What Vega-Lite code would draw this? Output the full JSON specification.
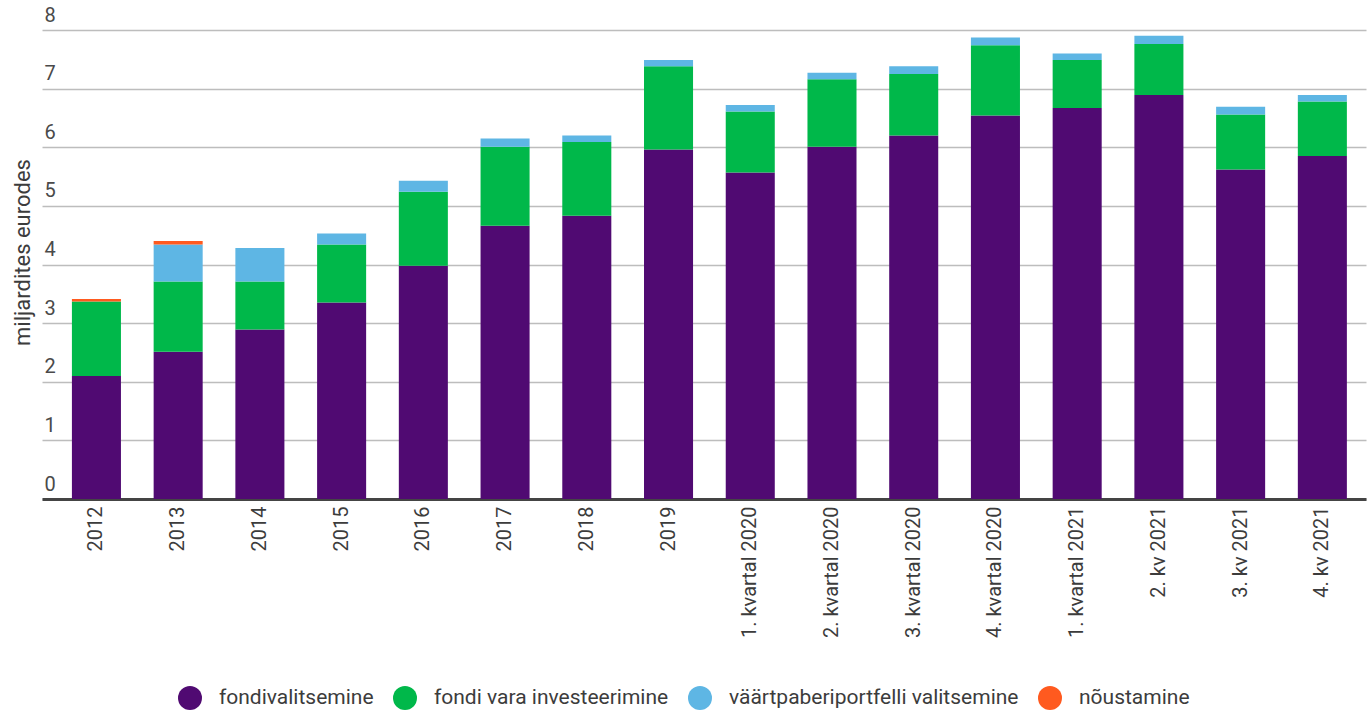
{
  "$schema": "https://vega.github.io/schema/vega-lite/v6.json",
  "width": 1324,
  "height": 469,
  "autosize": {"type": "none"},
  "padding": {"left": 42, "top": 30, "right": 5, "bottom": 212},
  "background": "white",
  "config": {
    "view": {"stroke": null},
    "font": "Roboto"
  },
  "data": {
    "values": [
      {"p": "2012", "s": "fondivalitsemine", "j": 1, "v": 2.10},
      {"p": "2012", "s": "fondi vara investeerimine", "j": 2, "v": 1.27},
      {"p": "2012", "s": "nõustamine", "j": 4, "v": 0.04},
      {"p": "2013", "s": "fondivalitsemine", "j": 1, "v": 2.51},
      {"p": "2013", "s": "fondi vara investeerimine", "j": 2, "v": 1.20},
      {"p": "2013", "s": "väärtpaberiportfelli valitsemine", "j": 3, "v": 0.63},
      {"p": "2013", "s": "nõustamine", "j": 4, "v": 0.06},
      {"p": "2014", "s": "fondivalitsemine", "j": 1, "v": 2.89},
      {"p": "2014", "s": "fondi vara investeerimine", "j": 2, "v": 0.82},
      {"p": "2014", "s": "väärtpaberiportfelli valitsemine", "j": 3, "v": 0.57},
      {"p": "2015", "s": "fondivalitsemine", "j": 1, "v": 3.35},
      {"p": "2015", "s": "fondi vara investeerimine", "j": 2, "v": 0.99},
      {"p": "2015", "s": "väärtpaberiportfelli valitsemine", "j": 3, "v": 0.19},
      {"p": "2016", "s": "fondivalitsemine", "j": 1, "v": 3.98},
      {"p": "2016", "s": "fondi vara investeerimine", "j": 2, "v": 1.26},
      {"p": "2016", "s": "väärtpaberiportfelli valitsemine", "j": 3, "v": 0.19},
      {"p": "2017", "s": "fondivalitsemine", "j": 1, "v": 4.66},
      {"p": "2017", "s": "fondi vara investeerimine", "j": 2, "v": 1.35},
      {"p": "2017", "s": "väärtpaberiportfelli valitsemine", "j": 3, "v": 0.14},
      {"p": "2018", "s": "fondivalitsemine", "j": 1, "v": 4.83},
      {"p": "2018", "s": "fondi vara investeerimine", "j": 2, "v": 1.26},
      {"p": "2018", "s": "väärtpaberiportfelli valitsemine", "j": 3, "v": 0.11},
      {"p": "2019", "s": "fondivalitsemine", "j": 1, "v": 5.96},
      {"p": "2019", "s": "fondi vara investeerimine", "j": 2, "v": 1.42},
      {"p": "2019", "s": "väärtpaberiportfelli valitsemine", "j": 3, "v": 0.11},
      {"p": "1. kvartal 2020", "s": "fondivalitsemine", "j": 1, "v": 5.57},
      {"p": "1. kvartal 2020", "s": "fondi vara investeerimine", "j": 2, "v": 1.04},
      {"p": "1. kvartal 2020", "s": "väärtpaberiportfelli valitsemine", "j": 3, "v": 0.11},
      {"p": "2. kvartal 2020", "s": "fondivalitsemine", "j": 1, "v": 6.01},
      {"p": "2. kvartal 2020", "s": "fondi vara investeerimine", "j": 2, "v": 1.15},
      {"p": "2. kvartal 2020", "s": "väärtpaberiportfelli valitsemine", "j": 3, "v": 0.11},
      {"p": "3. kvartal 2020", "s": "fondivalitsemine", "j": 1, "v": 6.20},
      {"p": "3. kvartal 2020", "s": "fondi vara investeerimine", "j": 2, "v": 1.05},
      {"p": "3. kvartal 2020", "s": "väärtpaberiportfelli valitsemine", "j": 3, "v": 0.13},
      {"p": "4. kvartal 2020", "s": "fondivalitsemine", "j": 1, "v": 6.54},
      {"p": "4. kvartal 2020", "s": "fondi vara investeerimine", "j": 2, "v": 1.20},
      {"p": "4. kvartal 2020", "s": "väärtpaberiportfelli valitsemine", "j": 3, "v": 0.13},
      {"p": "1. kvartal 2021", "s": "fondivalitsemine", "j": 1, "v": 6.67},
      {"p": "1. kvartal 2021", "s": "fondi vara investeerimine", "j": 2, "v": 0.82},
      {"p": "1. kvartal 2021", "s": "väärtpaberiportfelli valitsemine", "j": 3, "v": 0.11},
      {"p": "2. kv 2021", "s": "fondivalitsemine", "j": 1, "v": 6.89},
      {"p": "2. kv 2021", "s": "fondi vara investeerimine", "j": 2, "v": 0.87},
      {"p": "2. kv 2021", "s": "väärtpaberiportfelli valitsemine", "j": 3, "v": 0.14},
      {"p": "3. kv 2021", "s": "fondivalitsemine", "j": 1, "v": 5.62},
      {"p": "3. kv 2021", "s": "fondi vara investeerimine", "j": 2, "v": 0.94},
      {"p": "3. kv 2021", "s": "väärtpaberiportfelli valitsemine", "j": 3, "v": 0.13},
      {"p": "4. kv 2021", "s": "fondivalitsemine", "j": 1, "v": 5.85},
      {"p": "4. kv 2021", "s": "fondi vara investeerimine", "j": 2, "v": 0.93},
      {"p": "4. kv 2021", "s": "väärtpaberiportfelli valitsemine", "j": 3, "v": 0.11}
    ]
  },
  "mark": {"type": "bar"},
  "encoding": {
    "x": {
      "field": "p",
      "type": "nominal",
      "sort": null,
      "scale": {"paddingInner": 0.4, "paddingOuter": 0.3, "align": 0.61},
      "axis": {
        "title": null,
        "labelAngle": -90,
        "labelAlign": "right",
        "labelBaseline": "middle",
        "labelFontSize": 20,
        "labelColor": "#3c3c3c",
        "labelPadding": 7,
        "ticks": false,
        "domainColor": "#444444",
        "domainWidth": 3,
        "labelFont": "Roboto"
      }
    },
    "y": {
      "field": "v",
      "type": "quantitative",
      "stack": "zero",
      "scale": {"domain": [0, 8], "nice": false},
      "axis": {
        "title": "miljardites eurodes",
        "titleFontSize": 22,
        "titleFontWeight": "normal",
        "titleColor": "#3c3c3c",
        "titleFont": "Roboto",
        "titleAngle": 270,
        "titleAlign": "center",
        "titleBaseline": "middle",
        "titleX": -20,
        "titleY": 222,
        "values": [0, 1, 2, 3, 4, 5, 6, 7, 8],
        "format": "d",
        "labelAlign": "left",
        "labelBaseline": "bottom",
        "labelPadding": -2,
        "labelOffset": -5,
        "labelFontSize": 20,
        "labelColor": "#4a4a4a",
        "labelFont": "Roboto",
        "ticks": false,
        "domain": false,
        "grid": true,
        "gridColor": "#bdbdbd",
        "gridWidth": 1.5,
        "zindex": 0
      }
    },
    "color": {
      "field": "s",
      "type": "nominal",
      "scale": {
        "domain": ["fondivalitsemine", "fondi vara investeerimine", "väärtpaberiportfelli valitsemine", "nõustamine"],
        "range": ["#500a72", "#00b84a", "#5eb6e4", "#ff5a1f"]
      },
      "legend": {
        "title": null,
        "orient": "none",
        "direction": "horizontal",
        "legendX": 136,
        "legendY": 656,
        "symbolType": "circle",
        "symbolSize": 576,
        "symbolOpacity": 1,
        "symbolStrokeWidth": 0,
        "labelFontSize": 21,
        "labelColor": "#3c3c3c",
        "labelFont": "Roboto",
        "labelOffset": 17,
        "columnPadding": 19,
        "labelLimit": 400
      }
    },
    "order": {"field": "j", "type": "quantitative", "sort": "ascending"}
  }
}
